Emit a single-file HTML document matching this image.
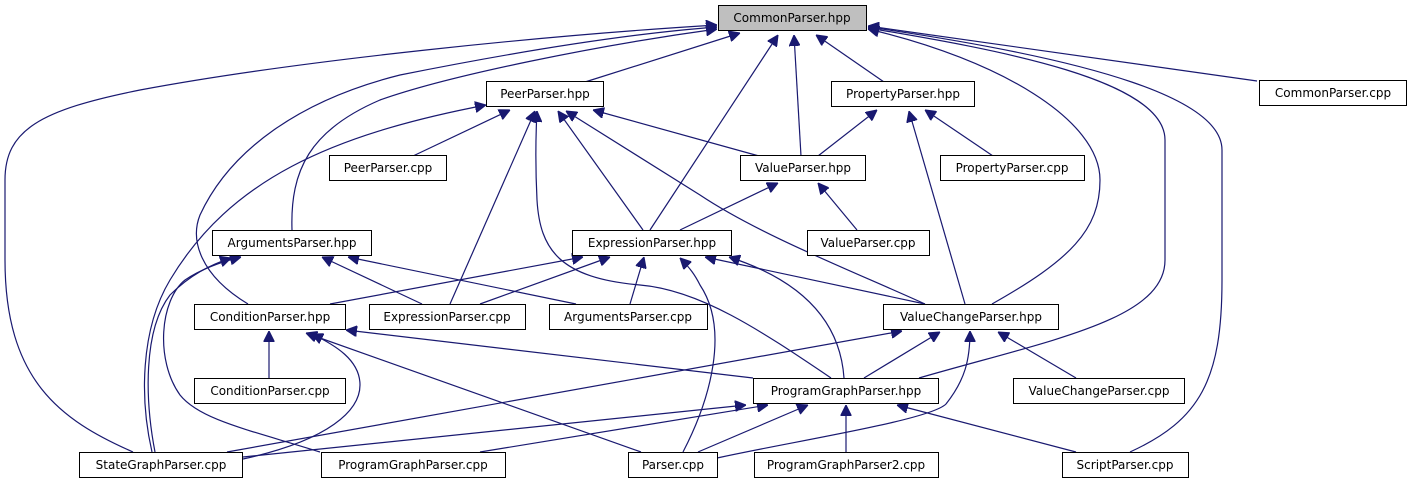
<!DOCTYPE html>
<html><head><meta charset="utf-8"><style>
html,body{margin:0;padding:0;background:#fff;}
svg text{font-family:"DejaVu Sans","Liberation Sans",sans-serif;font-size:12px;fill:#000;text-anchor:middle;}
</style></head><body>
<svg width="1412" height="485" viewBox="0 0 1412 485" xmlns="http://www.w3.org/2000/svg">
<defs><marker id="a" viewBox="0 0 10 10" refX="10" refY="5" markerWidth="11" markerHeight="11" markerUnits="userSpaceOnUse" orient="auto"><path d="M0,0L10,5L0,10z" fill="#191970" stroke="#191970"/></marker></defs>
<g fill="none" stroke="#191970" stroke-width="1.2" marker-end="url(#a)">
<!-- to CommonParser.hpp -->
<path d="M585,82L740,33"/>
<path d="M884,82L816,35"/>
<path d="M801,156L794,35"/>
<path d="M650,230L778,35"/>
<path d="M292,230C290,170 310,130 380,100C450,75 600,45 717,29"/>
<path d="M248,304C200,275 190,240 200,215C230,150 300,100 400,75C550,45 650,32 717,27"/>
<path d="M133,452C60,420 5,380 5,260L5,180C5,130 40,110 140,90C300,60 550,35 717,25"/>
<path d="M1257,81L868,26"/>
<path d="M992,304C1070,260 1100,230 1100,180C1100,120 1000,60 868,29"/>
<path d="M919,378C1050,340 1165,320 1165,260L1165,140C1165,80 1000,50 868,28"/>
<path d="M1130,452C1200,420 1222,380 1222,280L1222,150C1222,100 1100,60 868,27"/>
<!-- to PeerParser.hpp -->
<path d="M413,156L510,110"/>
<path d="M759,156L593,110"/>
<path d="M643,230L558,111"/>
<path d="M450,304L535,111"/>
<path d="M831,378C760,330 700,290 640,285C560,278 540,250 537,200C535,160 536,130 537,111"/>
<path d="M925,304C850,270 760,235 700,195L566,111"/>
<path d="M152,452C140,400 140,330 170,280C230,180 330,135 486,105"/>
<!-- to PropertyParser.hpp -->
<path d="M818,156L877,110"/>
<path d="M993,156L925,110"/>
<path d="M965,304L909,111"/>
<!-- to ValueParser.hpp -->
<path d="M680,230L778,183"/>
<path d="M857,230L818,183"/>
<!-- to ArgumentsParser.hpp -->
<path d="M422,304L322,257"/>
<path d="M576,304L348,257"/>
<path d="M155,452C145,400 143,330 170,295C190,275 210,265 231,258"/>
<path d="M320,452C250,430 200,420 180,395C155,360 160,300 185,280C200,270 220,262 241,257"/>
<!-- to ExpressionParser.hpp -->
<path d="M330,304L583,257"/>
<path d="M480,304L610,257"/>
<path d="M630,304L644,257"/>
<path d="M925,304L705,257"/>
<path d="M844,378C840,320 800,280 729,257"/>
<path d="M683,452C710,400 730,330 700,285C695,275 690,268 680,258"/>
<!-- to ConditionParser.hpp -->
<path d="M269,378L269,331"/>
<path d="M753,378L346,330"/>
<path d="M641,452L306,333"/>
<path d="M243,459C330,440 360,410 360,385C360,360 335,345 312,334"/>
<!-- to ValueChangeParser.hpp -->
<path d="M864,378L940,332"/>
<path d="M1076,378L998,332"/>
<path d="M227,452L902,331"/>
<path d="M717,458C800,440 930,420 946,404C965,380 970,360 970,331"/>
<!-- to ProgramGraphParser.hpp -->
<path d="M243,457L746,405"/>
<path d="M480,452L768,405"/>
<path d="M698,452L808,405"/>
<path d="M846,452L846,405"/>
<path d="M1076,452L897,405"/>
</g>
<g stroke="#000" stroke-width="1" fill="#fff">
<rect x="718.5" y="5.5" width="148" height="25" fill="#bfbfbf"/>
<rect x="1259.5" y="80.5" width="147" height="25"/>
<rect x="486.5" y="81.5" width="117" height="25"/>
<rect x="831.5" y="81.5" width="143" height="25"/>
<rect x="329.5" y="155.5" width="117" height="25"/>
<rect x="740.5" y="155.5" width="125" height="25"/>
<rect x="940.5" y="155.5" width="144" height="25"/>
<rect x="212.5" y="230.5" width="159" height="25"/>
<rect x="572.5" y="230.5" width="159" height="25"/>
<rect x="807.5" y="230.5" width="122" height="25"/>
<rect x="194.5" y="304.5" width="151" height="25"/>
<rect x="369.5" y="304.5" width="156" height="25"/>
<rect x="549.5" y="304.5" width="158" height="25"/>
<rect x="883.5" y="304.5" width="175" height="25"/>
<rect x="194.5" y="378.5" width="151" height="25"/>
<rect x="753.5" y="378.5" width="185" height="25"/>
<rect x="1013.5" y="378.5" width="171" height="25"/>
<rect x="79.5" y="452.5" width="163" height="25"/>
<rect x="321.5" y="452.5" width="184" height="25"/>
<rect x="628.5" y="452.5" width="89" height="25"/>
<rect x="754.5" y="452.5" width="184" height="25"/>
<rect x="1062.5" y="452.5" width="126" height="25"/>
</g>
<g>
<text x="792" y="22">CommonParser.hpp</text>
<text x="1333" y="97">CommonParser.cpp</text>
<text x="545" y="98">PeerParser.hpp</text>
<text x="903" y="98">PropertyParser.hpp</text>
<text x="388" y="172">PeerParser.cpp</text>
<text x="803" y="172">ValueParser.hpp</text>
<text x="1012" y="172">PropertyParser.cpp</text>
<text x="292" y="247">ArgumentsParser.hpp</text>
<text x="652" y="247">ExpressionParser.hpp</text>
<text x="868" y="247">ValueParser.cpp</text>
<text x="270" y="321">ConditionParser.hpp</text>
<text x="447" y="321">ExpressionParser.cpp</text>
<text x="628" y="321">ArgumentsParser.cpp</text>
<text x="971" y="321">ValueChangeParser.hpp</text>
<text x="270" y="395">ConditionParser.cpp</text>
<text x="846" y="395">ProgramGraphParser.hpp</text>
<text x="1099" y="395">ValueChangeParser.cpp</text>
<text x="161" y="469">StateGraphParser.cpp</text>
<text x="413" y="469">ProgramGraphParser.cpp</text>
<text x="673" y="469">Parser.cpp</text>
<text x="846" y="469">ProgramGraphParser2.cpp</text>
<text x="1125" y="469">ScriptParser.cpp</text>
</g>
</svg>
</body></html>
